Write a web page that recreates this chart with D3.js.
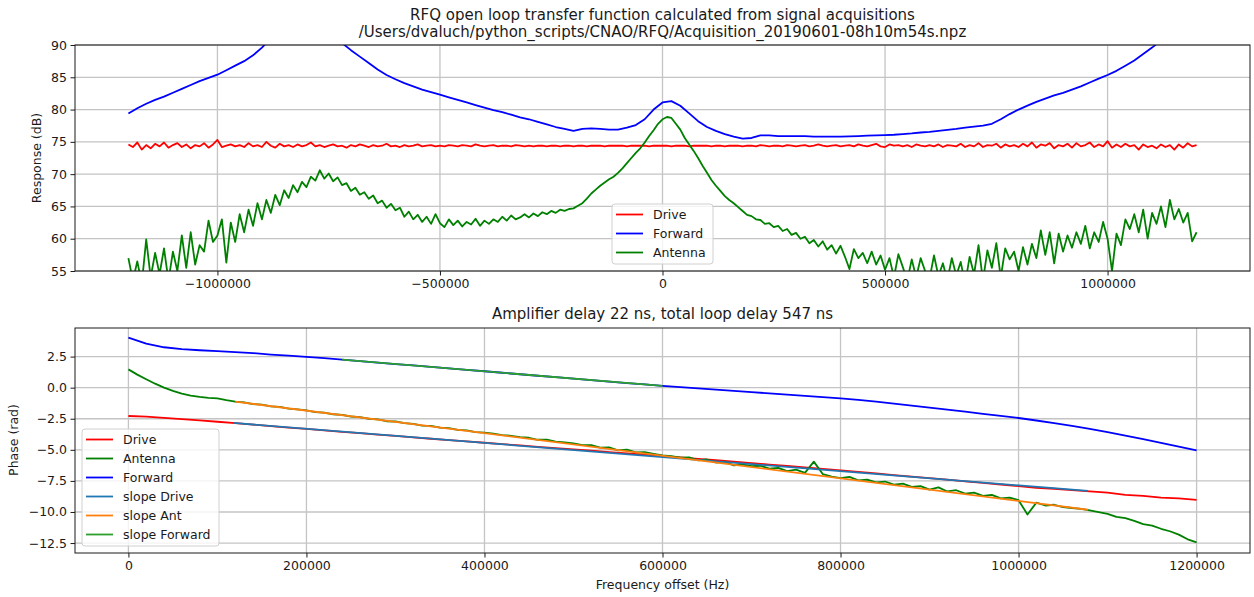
<!DOCTYPE html>
<html>
<head>
<meta charset="utf-8">
<script src="https://cdnjs.cloudflare.com/ajax/libs/d3/7.8.5/d3.min.js"></script>
<style>
    body { margin: 0; background: #fff; }
    svg text { font-family: "DejaVu Sans", sans-serif; fill: #1a1a1a; }
</style>
</head>
<body>
<div id="space"></div>
<script>
/************************************************
                  Data
*************************************************/
var magTitle = ["RFQ open loop transfer function calculated from signal acquisitions",
                "/Users/dvaluch/python_scripts/CNAO/RFQ/Acquisition_20190601-08h10m54s.npz"];
var phaseTitle = "Amplifier delay 22 ns, total loop delay 547 ns";

var magXTicks = [-1000000, -500000, 0, 500000, 1000000];
var magYTicks = [55, 60, 65, 70, 75, 80, 85, 90];
var phaseXTicks = [0, 200000, 400000, 600000, 800000, 1000000, 1200000];
var phaseYTicks = [-12.5, -10, -7.5, -5, -2.5, 0, 2.5];

//Magnitude: Drive / Antenna sampled every 10 kHz from -1.2 MHz, Forward every 20 kHz
var magStart = -1200000;
var driveMag = [
    74.6, 74.2, 74.9, 73.8, 74.5, 74.0, 74.7, 74.3, 74.9, 74.1,
    74.5, 74.8, 74.2, 74.6, 74.0, 74.5, 74.3, 74.8, 74.1, 74.6,
    75.3, 74.2, 74.4, 74.6, 74.3, 74.5, 74.2, 74.8, 74.3, 74.5,
    74.2, 75.0, 74.4, 74.1, 74.7, 74.3, 74.5, 74.2, 74.6, 74.3,
    74.5, 74.9, 74.3, 74.5, 74.2, 74.4, 74.6, 74.3, 74.4, 74.1,
    74.5, 74.3, 74.6, 74.4, 74.2, 74.5, 74.3, 74.4, 74.7, 74.3,
    74.4, 74.2, 74.5, 74.3, 74.4, 74.6, 74.3, 74.4, 74.5, 74.3,
    74.4, 74.3, 74.5, 74.4, 74.3, 74.5, 74.4, 74.3, 74.6, 74.4,
    74.3, 74.4, 74.5, 74.3, 74.4, 74.4, 74.3, 74.5, 74.4, 74.3,
    74.4, 74.3, 74.4, 74.4, 74.3, 74.4, 74.4, 74.3, 74.4, 74.4,
    74.3, 74.4, 74.4, 74.3, 74.4, 74.4, 74.4, 74.3, 74.4, 74.4,
    74.4, 74.4, 74.3, 74.4, 74.4, 74.4, 74.4, 74.3, 74.4, 74.4,
    74.4, 74.4, 74.3, 74.4, 74.4, 74.4, 74.3, 74.4, 74.4, 74.4,
    74.4, 74.3, 74.4, 74.4, 74.3, 74.4, 74.4, 74.4, 74.3, 74.4,
    74.4, 74.3, 74.5, 74.4, 74.3, 74.4, 74.4, 74.3, 74.5, 74.4,
    74.3, 74.4, 74.5, 74.3, 74.4, 74.6, 74.4, 74.3, 74.4, 74.5,
    74.3, 74.4, 74.5, 74.3, 74.6, 74.4, 74.3, 74.5, 74.7, 74.3,
    74.2, 74.6, 74.4, 74.5, 74.3, 74.5, 74.2, 74.6, 74.4, 74.3,
    74.5, 74.3, 74.6, 74.2, 74.5, 74.4, 74.3, 74.7, 74.2, 74.5,
    74.3, 74.8, 74.2, 74.5, 74.4, 74.7, 74.1, 74.6, 74.3, 74.5,
    74.2, 74.7, 74.3, 74.9, 74.1, 74.6, 74.4, 74.8, 74.0, 74.5,
    74.3, 74.7, 74.1, 74.8, 74.3, 74.5, 74.9, 74.2, 74.6, 74.3,
    75.1, 74.1, 74.6, 74.2, 74.7, 74.3, 74.5, 73.8, 74.6, 74.2,
    74.4, 74.0, 74.6, 74.2, 74.5, 73.8, 74.6, 74.1, 74.8, 74.3,
    74.5
];
var antennaMag = [
    57.0, 53.5, 56.5, 53.0, 59.9, 54.0, 57.8, 54.5, 58.5, 53.5,
    58.0, 55.0, 60.5, 55.5, 61.0, 56.0, 59.0, 58.0, 62.8, 59.5,
    60.5, 63.0, 56.3, 62.5, 59.5, 63.8, 61.0, 64.5, 62.0, 65.5,
    63.0, 66.0, 64.0, 66.8, 65.2, 67.5, 66.3, 68.3, 67.2, 68.8,
    68.0, 69.6, 69.0, 70.6, 69.3, 70.1, 68.9, 69.5, 68.3, 68.6,
    67.4, 67.9, 66.8, 67.2, 66.2, 66.7, 65.5, 65.9, 64.8, 65.4,
    64.4, 64.8, 63.4, 64.2, 63.0, 63.7, 62.6, 63.4, 62.3, 63.8,
    62.4, 61.8, 63.0, 62.1, 62.8, 61.9, 62.6, 62.2, 63.1, 62.0,
    62.8, 62.3, 63.0, 62.6, 63.4, 62.8, 63.6, 63.0, 63.3, 63.8,
    63.3, 63.9, 63.5, 64.1, 63.8, 64.3, 64.0, 64.5, 64.3, 64.6,
    64.7, 65.1, 65.5, 66.2, 67.0, 67.6, 68.2, 68.7, 69.2, 69.6,
    70.2, 70.9, 71.7, 72.5, 73.3, 74.0, 74.9, 75.9, 76.8, 77.8,
    78.5, 78.85, 78.7, 77.8, 76.9, 75.6, 74.6, 73.6, 72.5, 71.3,
    70.2, 69.1, 68.2, 67.4, 66.6, 66.0, 65.5, 64.9, 64.3, 63.7,
    63.5, 63.0, 62.9, 62.3, 62.4, 61.8, 62.0, 61.2, 61.5, 60.6,
    60.9, 60.0, 60.3, 59.3, 59.8, 58.8, 59.6, 58.3, 59.0, 57.7,
    58.9, 57.2, 55.3, 58.4, 57.0, 57.8, 56.2, 58.0, 56.0, 57.4,
    55.2, 57.0, 54.0, 57.6, 55.6, 53.5, 56.8, 54.0, 57.0, 55.0,
    53.8, 57.4, 54.2, 56.2, 53.5, 57.0, 54.3, 56.4, 53.0, 57.2,
    54.5, 59.0, 53.5, 58.2, 55.5, 59.3, 54.0, 58.5, 56.8, 58.0,
    55.0, 58.7, 56.0, 59.2, 57.0, 61.3, 57.5, 61.0, 56.2, 60.8,
    58.0, 60.5, 58.6, 61.0, 59.2, 62.0, 58.5, 61.0, 59.5, 62.6,
    60.0, 55.0, 60.8, 59.0, 63.0, 61.5, 63.8, 61.0, 64.5, 60.0,
    64.0, 62.3, 65.0, 61.8, 66.0, 63.0, 64.6, 62.5, 64.0, 59.6,
    61.0
];
var forwardMag = [
    79.4, 80.2, 80.9, 81.5, 82.0, 82.6, 83.2, 83.8, 84.4, 84.9,
    85.4, 86.1, 86.8, 87.5, 88.4, 89.6, 91.0, 92.5, 94.0, 95.0,
    95.5, 95.0, 93.8, 92.0, 90.3, 89.2, 88.2, 87.2, 86.2, 85.35,
    84.7, 84.1, 83.6, 83.1, 82.7, 82.3, 81.9, 81.5, 81.1, 80.7,
    80.3, 79.9, 79.6, 79.2, 78.8, 78.5, 78.1, 77.7, 77.3, 77.0,
    76.7, 77.0, 77.1, 77.0, 76.9, 76.9, 77.2, 77.6, 78.5, 80.0,
    81.1, 81.3, 80.6, 79.4, 78.2, 77.3, 76.7, 76.2, 75.8, 75.5,
    75.6, 76.0, 76.0, 75.9, 75.9, 75.9, 75.9, 75.8, 75.8, 75.8,
    75.8, 75.85, 75.9, 75.95, 76.0, 76.05, 76.1, 76.2, 76.3, 76.45,
    76.55, 76.7, 76.85, 77.0, 77.2, 77.35, 77.5, 77.8, 78.5, 79.3,
    80.0, 80.6, 81.2, 81.7, 82.2, 82.6, 83.1, 83.6, 84.2, 84.8,
    85.35, 86.0, 86.8, 87.6, 88.6, 89.6, 90.7, 91.8, 93.0, 94.2,
    95.4
];

//Phase: Drive / Forward every 20 kHz from 0, Antenna every 10 kHz
var drivePhase = [
    -2.28, -2.33, -2.43, -2.53, -2.63, -2.74, -2.86, -2.97, -3.09, -3.21,
    -3.32, -3.43, -3.55, -3.66, -3.77, -3.88, -4.00, -4.11, -4.22, -4.32,
    -4.43, -4.54, -4.65, -4.76, -4.86, -4.96, -5.07, -5.18, -5.29, -5.39,
    -5.50, -5.61, -5.73, -5.84, -5.96, -6.07, -6.19, -6.30, -6.42, -6.54,
    -6.66, -6.78, -6.90, -7.03, -7.15, -7.28, -7.40, -7.53, -7.66, -7.79,
    -7.92, -8.05, -8.13, -8.24, -8.35, -8.45, -8.62, -8.70, -8.84, -8.90,
    -9.02
];
var forwardPhase = [
    4.02, 3.55, 3.25, 3.10, 3.01, 2.94, 2.86, 2.78, 2.66, 2.57,
    2.47, 2.37, 2.26, 2.14, 2.02, 1.90, 1.79, 1.67, 1.55, 1.43,
    1.32, 1.20, 1.08, 0.96, 0.85, 0.73, 0.61, 0.49, 0.37, 0.26,
    0.14, 0.04, -0.06, -0.16, -0.26, -0.36, -0.46, -0.56, -0.66, -0.76,
    -0.86, -0.99, -1.13, -1.28, -1.44, -1.60, -1.76, -1.93, -2.10, -2.27,
    -2.44, -2.64, -2.86, -3.08, -3.32, -3.57, -3.85, -4.14, -4.44, -4.74,
    -5.04
];
var antennaPhase = [
    1.47, 1.05, 0.68, 0.32, 0.00, -0.25, -0.48, -0.64, -0.74, -0.82,
    -0.86, -1.00, -1.12, -1.19, -1.32, -1.37, -1.50, -1.55, -1.68, -1.74,
    -1.83, -1.96, -2.00, -2.14, -2.19, -2.32, -2.37, -2.50, -2.55, -2.70,
    -2.72, -2.86, -2.92, -3.05, -3.08, -3.22, -3.26, -3.40, -3.44, -3.58,
    -3.62, -3.70, -3.81, -3.87, -3.98, -4.03, -4.19, -4.18, -4.35, -4.40,
    -4.48, -4.62, -4.63, -4.82, -4.80, -5.05, -4.98, -5.20, -5.18, -5.32,
    -5.45, -5.50, -5.62, -5.60, -5.85, -5.78, -6.02, -5.95, -6.25, -6.18,
    -6.32, -6.28, -6.52, -6.45, -6.72, -6.60, -6.85, -5.95, -6.95, -7.15,
    -7.28, -7.18, -7.45, -7.40, -7.62, -7.55, -7.80, -7.72, -7.98, -7.92,
    -8.20, -8.02, -8.35, -8.25, -8.52, -8.45, -8.70, -8.62, -8.90, -8.85,
    -9.05, -10.2, -9.25, -9.48, -9.42, -9.60, -9.68, -9.75, -9.88, -10.02,
    -10.15, -10.40, -10.50, -10.72, -10.98, -11.10, -11.35, -11.55, -11.82, -12.20,
    -12.45
];

//Fitted slopes: [start, end] frequency and phase
var slopeDriveF = [118000, 1078000], slopeDriveV = [-2.84, -8.30];
var slopeAntF = [120000, 1078000], slopeAntV = [-1.12, -9.82];
var slopeFwdF = [240000, 600000], slopeFwdV = [2.26, 0.14];

var magLegend = [["Drive", "#ff0000"], ["Forward", "#0000ff"], ["Antenna", "#008000"]];
var phaseLegend = [["Drive", "#ff0000"], ["Antenna", "#008000"], ["Forward", "#0000ff"],
                   ["slope Drive", "#1f77b4"], ["slope Ant", "#ff7f0e"], ["slope Forward", "#2ca02c"]];

/************************************************
                     Drawing
*************************************************/
var svg;

$ready();

function $ready() {
    //Init svg
    svg = d3.select("#space").append("svg")
                .attr("width", 1254)
                .attr("height", 597);

    drawMagnitude();
    drawPhase();
}

function sampled(values, start, step) {
    return values.map(function (v, i) { return [start + i * step, v]; });
}

function makePanel(id, box, xDomain, yDomain) {
    var p = {};
    p.box = box;
    p.x = d3.scaleLinear().domain(xDomain).range([box.left, box.right]);
    p.y = d3.scaleLinear().domain(yDomain).range([box.bottom, box.top]);

    svg.append("clipPath").attr("id", id)
        .append("rect")
        .attr("x", box.left)
        .attr("y", box.top)
        .attr("width", box.right - box.left)
        .attr("height", box.bottom - box.top);

    p.g = svg.append("g");
    p.grid = p.g.append("g");
    p.lines = p.g.append("g").attr("clip-path", "url(#" + id + ")");
    return p;
}

function drawGridAndAxes(p, xTicks, yTicks, xFmt, yFmt) {
    var b = p.box;

    //Grid
    p.grid.selectAll(".gx").data(xTicks).enter().append("line")
        .attr("x1", function (d) { return p.x(d); })
        .attr("x2", function (d) { return p.x(d); })
        .attr("y1", b.top)
        .attr("y2", b.bottom)
        .attr("stroke", "#c4c4c4")
        .attr("stroke-width", 1.3);
    p.grid.selectAll(".gy").data(yTicks).enter().append("line")
        .attr("x1", b.left)
        .attr("x2", b.right)
        .attr("y1", function (d) { return p.y(d); })
        .attr("y2", function (d) { return p.y(d); })
        .attr("stroke", "#c4c4c4")
        .attr("stroke-width", 1.3);

    //Axes
    var ax = p.g.append("g")
        .attr("transform", "translate(0," + b.bottom + ")")
        .call(d3.axisBottom(p.x).tickValues(xTicks).tickFormat(xFmt).tickSize(4.5).tickPadding(3.5));
    var ay = p.g.append("g")
        .attr("transform", "translate(" + b.left + ",0)")
        .call(d3.axisLeft(p.y).tickValues(yTicks).tickFormat(yFmt).tickSize(4.5).tickPadding(3.5));

    [ax, ay].forEach(function (a) {
        a.select(".domain").remove();
        a.attr("font-size", 12.5).attr("font-family", null);
        a.selectAll("line").attr("stroke", "#1a1a1a").attr("stroke-width", 1);
    });
}

function drawFrame(p) {
    var b = p.box;
    p.g.append("rect")
        .attr("x", b.left)
        .attr("y", b.top)
        .attr("width", b.right - b.left)
        .attr("height", b.bottom - b.top)
        .attr("fill", "none")
        .attr("stroke", "#1a1a1a")
        .attr("stroke-width", 1);
}

function drawSeries(p, pts, color) {
    var line = d3.line()
        .x(function (d) { return p.x(d[0]); })
        .y(function (d) { return p.y(d[1]); });

    p.lines.append("path")
        .datum(pts)
        .attr("d", line)
        .attr("fill", "none")
        .attr("stroke", color)
        .attr("stroke-width", 1.8)
        .attr("stroke-linejoin", "round");
}

function drawLegend(items, left, top, width) {
    var rowH = 19;
    var g = svg.append("g").attr("transform", "translate(" + left + "," + top + ")");

    g.append("rect")
        .attr("width", width)
        .attr("height", items.length * rowH + 3)
        .attr("rx", 3)
        .attr("fill", "white")
        .attr("fill-opacity", 0.8)
        .attr("stroke", "#d0d0d0")
        .attr("stroke-width", 1);

    var row = g.selectAll(".item").data(items).enter().append("g")
        .attr("transform", function (d, i) { return "translate(0," + (10.5 + i * rowH) + ")"; });
    row.append("line")
        .attr("x1", 4)
        .attr("x2", 31)
        .attr("stroke", function (d) { return d[1]; })
        .attr("stroke-width", 1.8);
    row.append("text")
        .attr("x", 41)
        .attr("dy", "0.36em")
        .attr("font-size", 12.5)
        .text(function (d) { return d[0]; });
}

function drawMagnitude() {
    var p = makePanel("clipMag", { left: 75, right: 1250, top: 45, bottom: 271 },
                      [-1320000, 1320000], [55, 90]);

    drawGridAndAxes(p, magXTicks, magYTicks, d3.format("d"), d3.format("d"));

    drawSeries(p, sampled(driveMag, magStart, 10000), "#ff0000");
    drawSeries(p, sampled(forwardMag, magStart, 20000), "#0000ff");
    drawSeries(p, sampled(antennaMag, magStart, 10000), "#008000");

    drawFrame(p);

    //Titles
    svg.append("text").attr("x", 662.5).attr("y", 20).attr("text-anchor", "middle")
        .attr("font-size", 15).text(magTitle[0]);
    svg.append("text").attr("x", 662.5).attr("y", 37).attr("text-anchor", "middle")
        .attr("font-size", 15).text(magTitle[1]);
    svg.append("text")
        .attr("transform", "translate(41,158) rotate(-90)")
        .attr("text-anchor", "middle")
        .attr("font-size", 12.5)
        .text("Response (dB)");

    drawLegend(magLegend, 612, 204, 101);
}

function drawPhase() {
    var p = makePanel("clipPhase", { left: 75, right: 1250, top: 328, bottom: 553 },
                      [-60000, 1260000], [-13.3, 4.8]);

    drawGridAndAxes(p, phaseXTicks, phaseYTicks, d3.format("d"), d3.format(".1f"));

    drawSeries(p, sampled(drivePhase, 0, 20000), "#ff0000");
    drawSeries(p, sampled(antennaPhase, 0, 10000), "#008000");
    drawSeries(p, sampled(forwardPhase, 0, 20000), "#0000ff");
    drawSeries(p, d3.zip(slopeDriveF, slopeDriveV), "#1f77b4");
    drawSeries(p, d3.zip(slopeAntF, slopeAntV), "#ff7f0e");
    drawSeries(p, d3.zip(slopeFwdF, slopeFwdV), "#2ca02c");

    drawFrame(p);

    svg.append("text").attr("x", 662.5).attr("y", 319).attr("text-anchor", "middle")
        .attr("font-size", 15).text(phaseTitle);
    svg.append("text").attr("x", 662.5).attr("y", 589).attr("text-anchor", "middle")
        .attr("font-size", 12.5).text("Frequency offset (Hz)");
    svg.append("text")
        .attr("transform", "translate(18,440) rotate(-90)")
        .attr("text-anchor", "middle")
        .attr("font-size", 12.5)
        .text("Phase (rad)");

    drawLegend(phaseLegend, 82, 429, 137);
}
</script>
</body>
</html>
